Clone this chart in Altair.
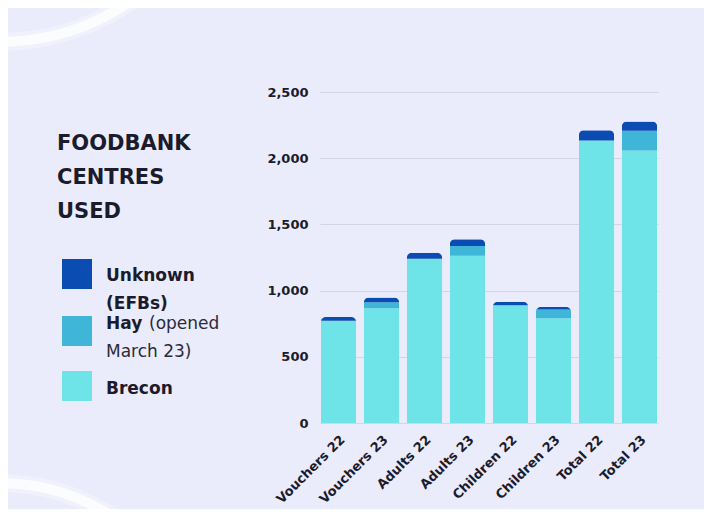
import altair as alt
import pandas as pd
import math

categories = ["Vouchers 22", "Vouchers 23", "Adults 22", "Adults 23",
              "Children 22", "Children 23", "Total 22", "Total 23"]
brecon = [773, 867, 1241, 1264, 890, 792, 2134, 2059]
hay = [0, 45, 0, 73, 0, 65, 0, 148]
unknown = [27, 35, 45, 50, 25, 20, 78, 70]

series = ["Brecon", "Hay", "Unknown"]
colors = ["#6fe4e8", "#3fb6d8", "#0b4cb3"]
y_ticks = [0, 500, 1000, 1500, 2000, 2500]

rows = []
for i, c in enumerate(categories):
    for k, (s, vals) in enumerate(zip(series, [brecon, hay, unknown])):
        rows.append({"category": c, "series": s, "value": vals[i], "order": k})
df = pd.DataFrame(rows)

FONT = "DejaVu Sans"
TXT = "#1b1b2b"
BG = "#eaebfb"

one = pd.DataFrame({"d": [0]})
# decorative background arcs
arc_top = alt.Chart(one).mark_arc(
    radius=224, radius2=234, theta=math.pi / 2, theta2=math.pi,
    fill="white", opacity=0.75
).encode(x=alt.value(-320), y=alt.value(-279))
arc_top2 = alt.Chart(one).mark_arc(
    radius=220, radius2=238, theta=math.pi / 2, theta2=math.pi,
    fill="white", opacity=0.3
).encode(x=alt.value(-320), y=alt.value(-279))
arc_bot = alt.Chart(one).mark_arc(
    radius=200, radius2=210, theta=0, theta2=math.pi / 2,
    fill="white", opacity=0.75
).encode(x=alt.value(-320), y=alt.value(596))
arc_bot2 = alt.Chart(one).mark_arc(
    radius=196, radius2=214, theta=0, theta2=math.pi / 2,
    fill="white", opacity=0.3
).encode(x=alt.value(-320), y=alt.value(596))

bars = alt.Chart(df).mark_bar(
    cornerRadiusTopLeft=5, cornerRadiusTopRight=5
).encode(
    x=alt.X("category:N", sort=categories, title=None,
            scale=alt.Scale(paddingInner=0.18, paddingOuter=0.02),
            axis=alt.Axis(labelAngle=-45, labelFont=FONT, labelFontSize=13,
                          labelFontWeight="bold", labelColor=TXT, ticks=False,
                          domain=False, labelPadding=10)),
    y=alt.Y("value:Q", stack="zero", title=None,
            scale=alt.Scale(domain=[0, 2500]),
            axis=alt.Axis(values=y_ticks, format=",.0f", labelFont=FONT,
                          labelFontSize=13, labelFontWeight="bold",
                          labelColor=TXT, ticks=False, domain=False,
                          gridColor="#d3d5e6", gridWidth=1, labelPadding=12)),
    color=alt.Color("series:N", scale=alt.Scale(domain=series, range=colors),
                    legend=None),
    order=alt.Order("order:Q"),
)

# Custom legend on the left (drawn in the padding area)
title_df = pd.DataFrame({"t": ["FOODBANK", "CENTRES", "USED"], "y": [58, 92, 126]})
title = alt.Chart(title_df).mark_text(
    align="left", baseline="alphabetic", font=FONT, fontSize=21,
    fontWeight="bold", color=TXT
).encode(x=alt.value(-263), y=alt.Y("y:Q", scale=None), text="t:N")

sw_df = pd.DataFrame({
    "series": ["Unknown", "Hay", "Brecon"],
    "y1": [167, 224, 279], "y2": [197, 254, 309],
})
swatches = alt.Chart(sw_df).mark_rect().encode(
    x=alt.value(-258), x2=alt.value(-228),
    y=alt.Y("y1:Q", scale=None), y2="y2:Q",
    color=alt.Color("series:N", scale=alt.Scale(domain=series, range=colors),
                    legend=None),
)

lab_df = pd.DataFrame({
    "t": ["Unknown", "(EFBs)", "Hay", "(opened", "March 23)", "Brecon"],
    "x": [-214, -214, -214, -171, -214, -214],
    "y": [189, 217, 237, 237, 265, 302],
    "w": ["bold", "bold", "bold", "normal", "normal", "bold"],
})
lab_bold = alt.Chart(lab_df[lab_df.w == "bold"]).mark_text(
    align="left", baseline="alphabetic", font=FONT, fontSize=17,
    fontWeight="bold", color=TXT
).encode(x=alt.X("x:Q", scale=None), y=alt.Y("y:Q", scale=None), text="t:N")
lab_norm = alt.Chart(lab_df[lab_df.w == "normal"]).mark_text(
    align="left", baseline="alphabetic", font=FONT, fontSize=17,
    fontWeight="normal", color="#2a2a3a"
).encode(x=alt.X("x:Q", scale=None), y=alt.Y("y:Q", scale=None), text="t:N")

chart = alt.layer(arc_top2, arc_top, arc_bot2, arc_bot, bars, title, swatches,
                  lab_bold, lab_norm).properties(
    width=338, height=331,
    background=BG,
    padding={"left": 312, "top": 84, "right": 46, "bottom": 86},
    autosize=alt.AutoSizeParams(type="none"),
).configure_view(stroke=None, clip=False)

chart.save("out.html", embed_options={"renderer": "svg", "actions": False})
